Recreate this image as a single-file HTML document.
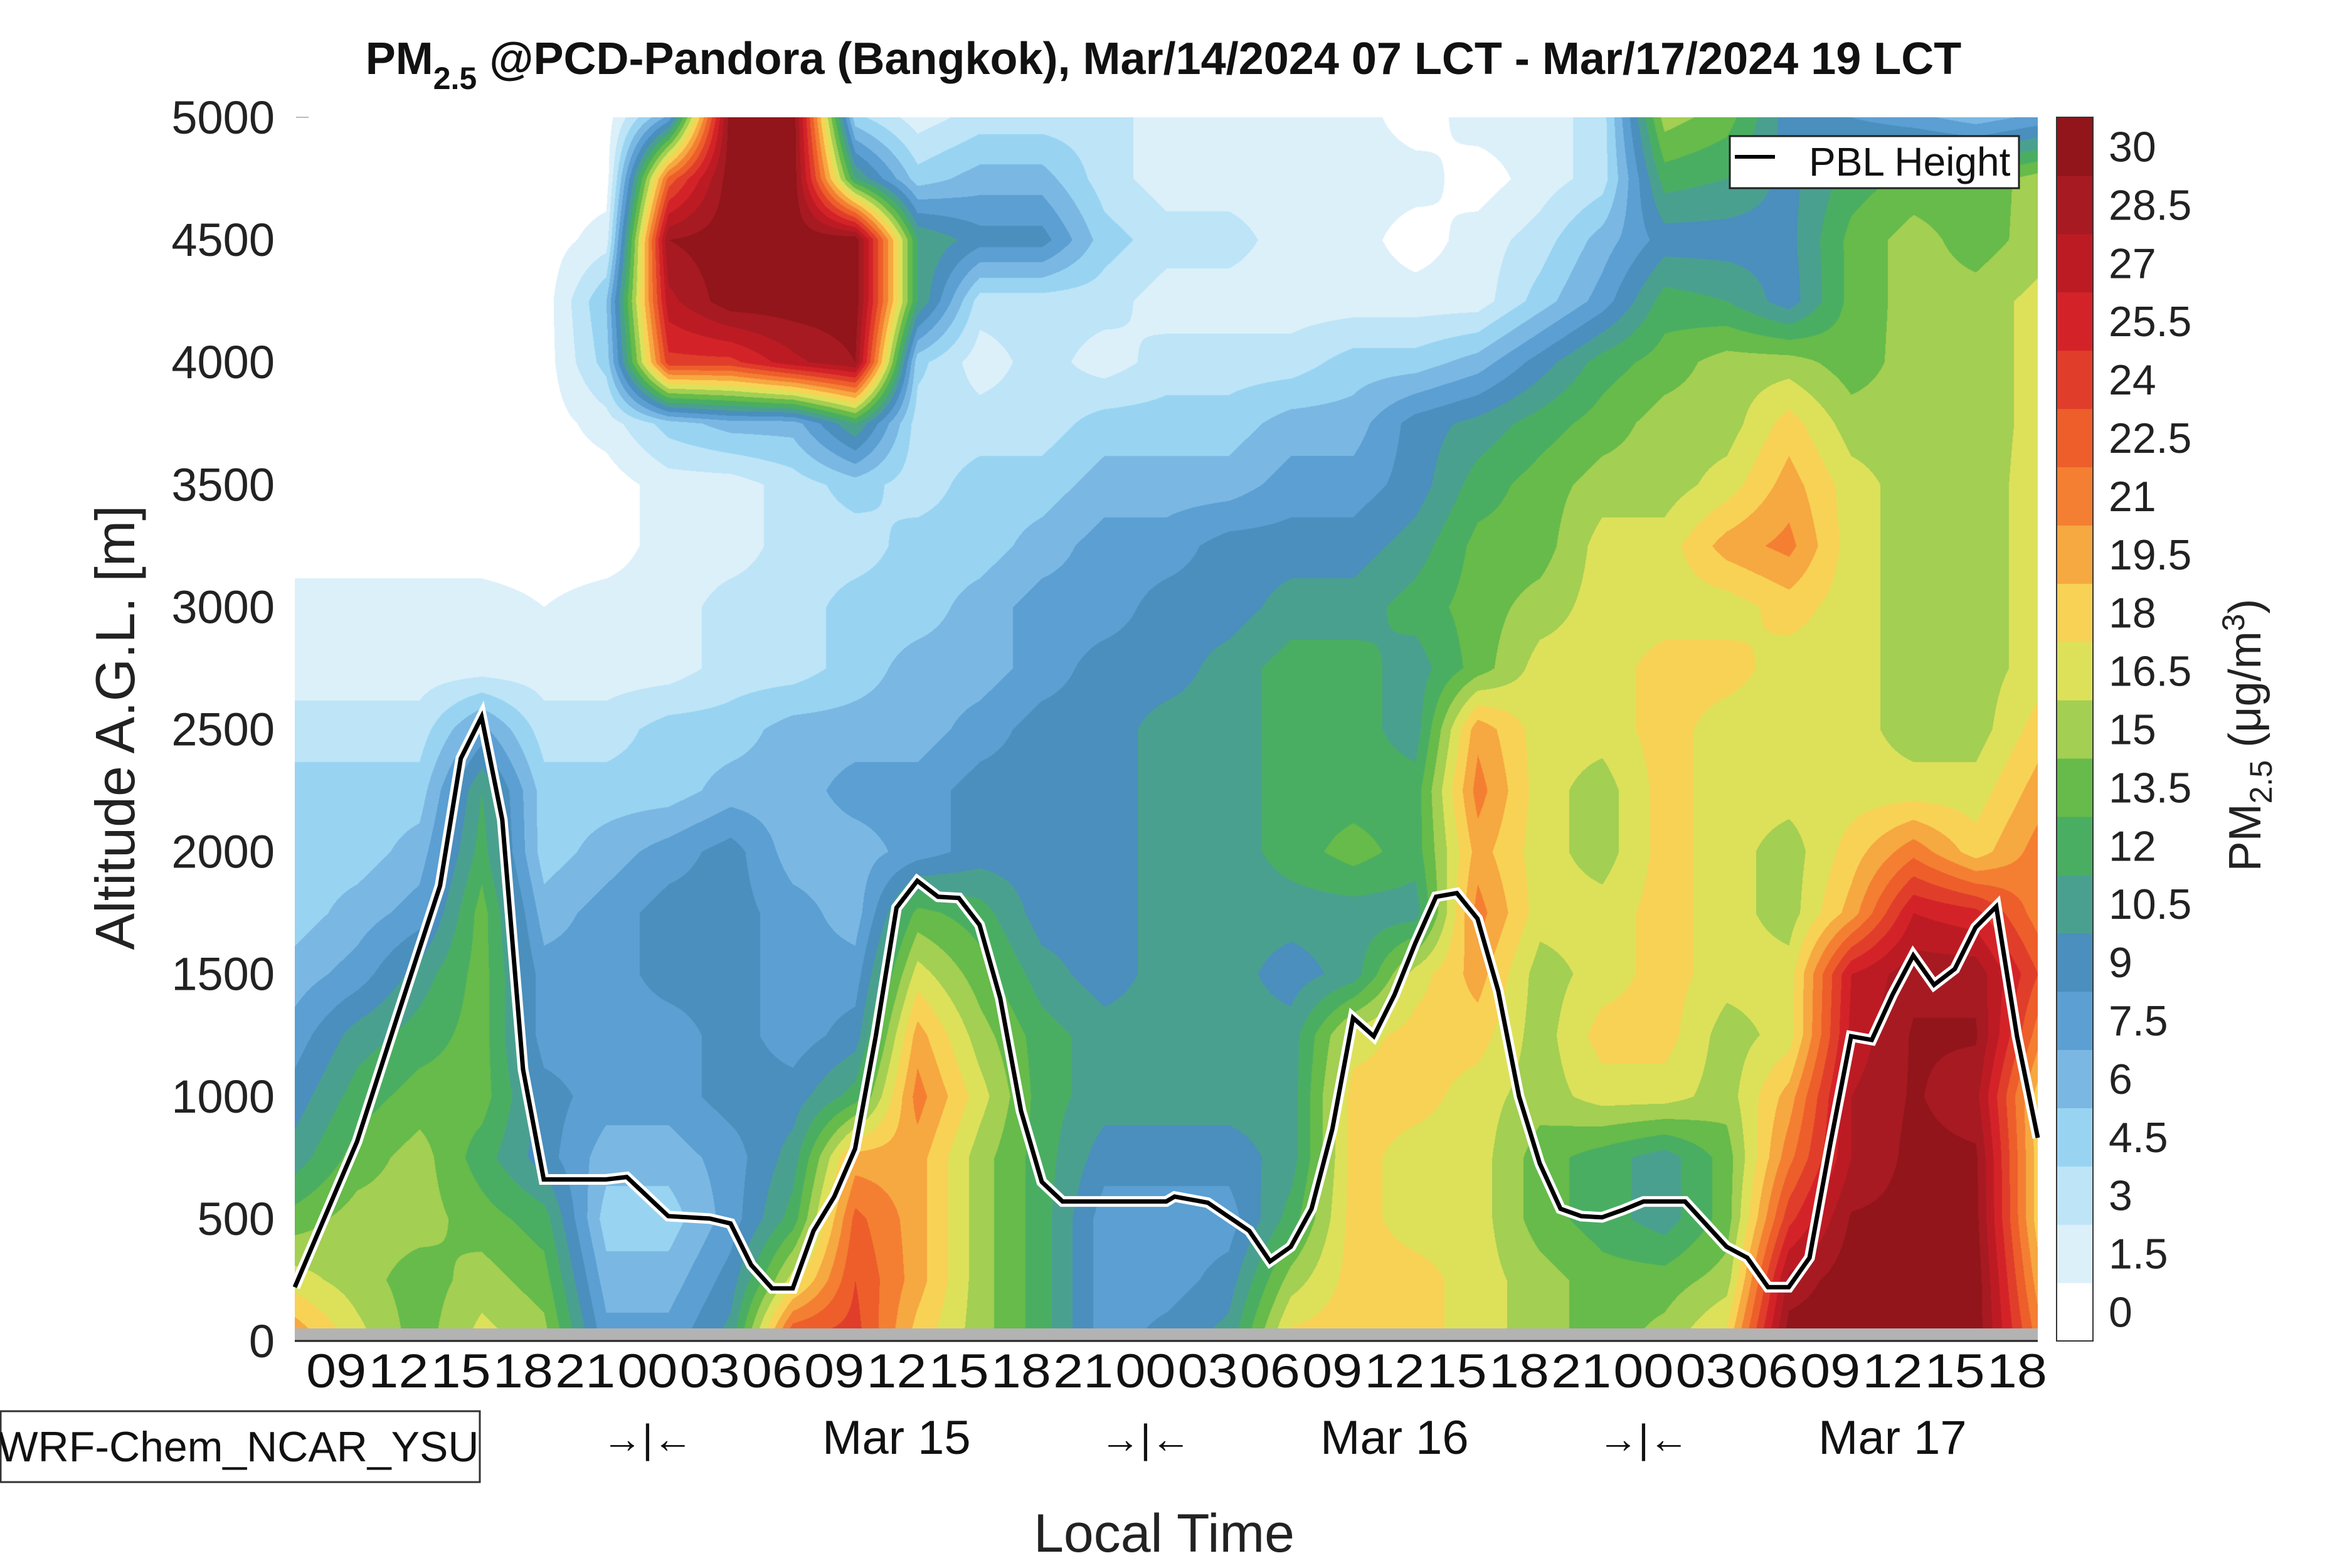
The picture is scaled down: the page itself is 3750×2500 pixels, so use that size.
<!DOCTYPE html>
<html><head><meta charset="utf-8"><style>
html,body{margin:0;padding:0;background:#fff;}
#wrap{position:relative;width:3750px;height:2500px;overflow:hidden;font-family:"Liberation Sans",sans-serif;}
#cv{position:absolute;left:470px;top:187px;}
#svg{position:absolute;left:0;top:0;}
</style></head><body>
<div id="wrap">
<canvas id="cv" width="2779" height="1951"></canvas>
<svg id="svg" width="3750" height="2500"></svg>
</div>
<script>
// ---- data ----
const levels=[0,1.5,3,4.5,6,7.5,9,10.5,12,13.5,15,16.5,18,19.5,21,22.5,24,25.5,27,28.5,30];
const bandColors=["#ffffff","#dcf0fa","#bde4f7","#98d4f2","#7ab8e3","#5b9fd3","#4a8fbd","#4aa08f","#4aae62","#66bb4a","#a3cf52","#dde15a","#f8d254","#f6a841","#f47f32","#ed5e2b","#e03e2a","#d42328","#bd1b24","#a71a22","#91151b"];
const gridHours=[0,3,6,9,12,15,18,21,24,27,30,33,36,39,42,45,48,51,54,57,60,63,66,69,72,75,78,81,84];
const gridAlts=[5000,4750,4500,4250,4000,3750,3500,3250,3000,2750,2500,2250,2000,1750,1500,1250,1000,750,500,250,0];
const pm=[
[0.7,0.7,0.7,0.7,0.7,0.7,8,31,31,5,2.2,3.7,3.7,3.7,2.2,2.2,2.2,2.2,0.7,2.2,2.2,3.7,15.7,14.2,9.7,9,8,6.7,8],
[0.7,0.7,0.7,0.7,0.7,0.7,23,31,31,12,5.2,6.7,6.7,3.7,2.2,2.2,2.2,2.2,2.2,0.7,2.2,3.7,12.7,12,10,12.7,14,14,15.7],
[0.7,0.7,0.7,0.7,0.7,2.2,30,31,31,31,12,9.7,9.7,5.2,3.7,3.7,2.2,2.2,0.7,2.2,3.7,6.7,9.7,9.7,10,14,15.7,14.2,15.7],
[0.7,0.7,0.7,0.7,0.7,6,28,31,31,31,12,3.7,3.7,3.7,2.2,2.2,2.2,2.2,2.2,2.2,5.2,8.2,12.7,12,9.7,14,15.7,15.7,17],
[0.7,0.7,0.7,0.7,0.7,5.2,25,25,28,30,5,2.2,3.7,2.2,3.7,3.7,3.7,5.2,5.2,6.7,9.7,12.7,14.2,15.7,15.7,14.2,15.7,15.7,17],
[0.7,0.7,0.7,0.7,0.7,2.2,5.2,6.7,6.7,12,3.7,3.7,3.7,5.2,5.2,5.2,6.7,6.7,9.7,11,12.7,14.2,15.7,15.7,18.7,15.7,15.7,15.7,17],
[0.7,0.7,0.7,0.7,0.7,0.7,2.2,2.2,3.7,5.2,3.7,5.2,5.2,6.7,6.7,6.7,8.2,8.2,9.7,12.7,14.2,15.7,15.7,17.2,20.2,17.2,15.7,15.7,17.2],
[0.7,0.7,0.7,0.7,0.7,0.7,2.2,2.2,3.7,3.7,5.2,5.2,6.7,8.2,8.2,9.7,9.7,9.7,11.2,14,14.2,17.2,17.2,20.2,21.5,17.2,15.7,15.7,17.2],
[2.2,2.2,2.2,2.2,1.5,2.2,2.2,3.7,3.7,5.2,5.2,6.7,8.2,8.2,9.7,9.7,11.2,11.2,12.7,14.2,15.7,17.2,17.2,17.2,18.7,17.2,15.7,15.7,17.2],
[2.2,2.2,2.2,2.2,2.2,2.2,2.2,3.7,3.7,5.2,6.7,6.7,8.2,9.7,9.7,11.2,12.7,12.7,11.2,14.2,17.2,17.2,18.7,18.7,17.2,17.2,15.7,15.7,17.2],
[3.7,3.7,3.7,8,3.7,3.7,5.2,5.2,6.7,6.7,6.7,8.2,9.7,9.7,11.2,11.2,12.7,12.7,11.2,20.5,17.2,17.2,18.7,17.2,17.2,17.2,15.7,15.7,18.7],
[5.2,5.2,5.2,12,5.2,5.2,5.2,6.7,6.7,8.2,8.2,9.7,9.7,9.7,11.2,11.2,12.7,12.7,12.7,21.7,17.2,15.7,18.7,17.2,17.2,17.2,17.2,17.2,20.2],
[5.2,5.2,6.7,12.7,5.2,6.7,8.2,9.7,6.7,6.7,8.2,9.7,9.7,9.7,11.2,11.2,12.7,14.2,12.7,20.2,17.2,15.7,18.7,17.2,15.7,18.7,22,18.7,21.7],
[5.2,6.7,8.2,14.2,6.7,8.2,9.7,9.7,8.2,6.7,14,12.7,9.7,9.7,11.2,11.2,11.2,11.2,11.2,21.7,17.2,17.2,18.7,17.2,15.7,20.2,27,26,21.7],
[6.7,8.2,11.2,14.2,8.2,8.2,9.7,9.7,8.2,8.2,17.2,14.2,11.2,9.7,11.2,11.2,9.7,11.2,17.2,20.2,15.7,17.2,18.7,17.2,17.2,27,29.5,29.5,24],
[8.2,11.2,12.7,14.2,8.2,8.2,8.2,9.7,8.2,9.7,20.2,15.7,12.7,11.2,11.2,11.2,11.2,17.2,18.7,18.7,15.7,18.7,18.7,15.7,17.2,27.5,30.2,30.2,21.7],
[9.7,12.7,14.2,14.2,9.7,8.2,8.2,9.7,9.7,12.7,21.7,17.2,12.7,11.2,11.2,11.2,11.2,18.7,18.7,17.2,15.7,17.2,17.2,15.7,20.2,28.5,30.2,29,18.7],
[11.2,14.2,15.7,12.7,9.7,6.7,6.7,8.2,11.2,20.2,20.2,15.7,12.7,9.7,9.7,9.7,11.2,18.7,17.2,17.2,14.2,12.7,11.2,14.2,22,28.5,30.5,30.3,18.7],
[14.2,15.7,15.7,14.2,12.7,5.2,5.2,8.2,12.7,23,20.2,15.7,12.7,8.2,8.2,8.2,12.7,18.7,17.2,17.2,14.2,12.7,11.2,14.2,25,30.2,30.5,30.5,18.7],
[17.2,15.7,14.2,15.7,14.2,6.7,6.7,9.7,17.2,24,20.2,15.7,12.7,8.2,8.2,9.7,15.7,18.7,18.7,17.2,15.7,14.2,14.2,15.7,29,31,31,31,20.2],
[21,17.2,14.2,17.2,15.7,8.2,8.2,11.2,24.7,24.7,18.7,15.7,12.7,8.2,9.7,11.2,18.7,19,18.7,17.2,15.7,14.2,15.7,18.7,31,31,31,31,22]
];
const pblHours=[0,3,5,7,8,9,10,11,12,15,16,18,20,21,22,23,24,25,26,27,28,29,30,31,32,33,34,35,36,37,42,42.4,44,46,47,48,49,50,51,52,53,54,55,56,57,58,59,60,61,62,63,64,65,67,69,70,71,72,73,74,75,76,77,78,79,80,81,82,83,84];
const pblAlt=[220,815,1340,1860,2380,2550,2130,1110,660,660,670,510,500,480,310,215,215,450,590,785,1245,1770,1880,1815,1810,1700,1400,940,650,570,570,590,565,450,325,385,540,865,1320,1245,1415,1625,1815,1830,1725,1430,1000,725,540,510,505,535,570,570,385,340,220,220,340,805,1245,1230,1415,1575,1455,1520,1690,1775,1245,830];
const yTicks=[0,500,1000,1500,2000,2500,3000,3500,4000,4500,5000];
const xTickHours=[2,5,8,11,14,17,20,23,26,29,32,35,38,41,44,47,50,53,56,59,62,65,68,71,74,77,80,83];
const xTickLabels=["09","12","15","18","21","00","03","06","09","12","15","18","21","00","03","06","09","12","15","18","21","00","03","06","09","12","15","18"];
const dayLabels=["Mar 15","Mar 16","Mar 17"];
const dayNoonHours=[29,53,77];
const midnightHours=[17,41,65];
const cbLabels=["0","1.5","3","4.5","6","7.5","9","10.5","12","13.5","15","16.5","18","19.5","21","22.5","24","25.5","27","28.5","30"];

// ---- axes ----
const X0=470,X1=3249,Y0=2138,Y1=187,HMAX=84,AMAX=5000;
const xs=h=>X0+(X1-X0)*h/HMAX;
const ys=a=>Y0-(Y0-Y1)*a/AMAX;

// ---- contour field on canvas ----
(function(){
  const cv=document.getElementById('cv');const ctx=cv.getContext('2d');
  const W=cv.width,H=cv.height;const img=ctx.createImageData(W,H);
  const rgb=bandColors.map(c=>[parseInt(c.substr(1,2),16),parseInt(c.substr(3,2),16),parseInt(c.substr(5,2),16)]);
  const nc=gridHours.length,nr=gridAlts.length;
  for(let py=0;py<H;py++){
    const alt=(Y0-(py+Y1))/(Y0-Y1)*AMAX;
    let r=(AMAX-alt)/(AMAX/(nr-1)); if(r<0)r=0; if(r>nr-1)r=nr-1;
    const r0=Math.min(Math.floor(r),nr-2),fr=r-r0;
    for(let px=0;px<W;px++){
      const h=px/(X1-X0)*HMAX;
      let c=h/(HMAX/(nc-1)); if(c>nc-1)c=nc-1;
      const c0=Math.min(Math.floor(c),nc-2),fc=c-c0;
      const v=(pm[r0][c0]*(1-fc)+pm[r0][c0+1]*fc)*(1-fr)+(pm[r0+1][c0]*(1-fc)+pm[r0+1][c0+1]*fc)*fr;
      let b=Math.floor(v/1.5); if(b<0)b=0; if(b>20)b=20;
      const k=(py*W+px)*4; const col=rgb[b];
      img.data[k]=col[0];img.data[k+1]=col[1];img.data[k+2]=col[2];img.data[k+3]=255;
    }
  }
  ctx.putImageData(img,0,0);
})();

// ---- svg overlay ----
const NS='http://www.w3.org/2000/svg';
const svg=document.getElementById('svg');
function mk(tag,attrs,parent){const e=document.createElementNS(NS,tag);for(const k in attrs)e.setAttribute(k,attrs[k]);(parent||svg).appendChild(e);return e;}

let g=mk('rect',{x:X0,y:Y0-20,width:X1-X0,height:20,fill:'#b3b3b3'});


let ax=mk('line',{x1:X0,y1:Y0,x2:X1,y2:Y0,stroke:'#222','stroke-width':3});



// PBL line
let pts=pblHours.map((h,i)=>xs(h).toFixed(1)+','+ys(pblAlt[i]).toFixed(1)).join(' ');
let pw=mk('polyline',{points:pts,fill:'none',stroke:'#fff','stroke-width':17,'stroke-linejoin':'miter'});


let pb=mk('polyline',{points:pts,fill:'none',stroke:'#000','stroke-width':7,'stroke-linejoin':'miter'});



// y ticks
yTicks.forEach(v=>{
  const t=mk('text',{x:438,y:ys(v)+26,'text-anchor':'end','font-size':74,fill:'#222'});
  t.textContent=v;
  
  
});
let tk=mk('line',{x1:X0+2,y1:Y1,x2:X0+22,y2:Y1,stroke:'#bbb','stroke-width':2});


// x ticks
xTickHours.forEach((h,i)=>{
  const t=mk('text',{x:xs(h),y:2212,'text-anchor':'middle','font-size':76,fill:'#111','textLength':96,'lengthAdjust':'spacingAndGlyphs'});
  t.textContent=xTickLabels[i];
  
  
});
dayLabels.forEach((d,i)=>{
  const t=mk('text',{x:xs(dayNoonHours[i]),y:2318,'text-anchor':'middle','font-size':76,fill:'#111'});
  t.textContent=d;
  
  
});
midnightHours.forEach(h=>{
  const t=mk('text',{x:xs(h),y:2316,'text-anchor':'middle','font-size':64,fill:'#111'});
  t.textContent='\u2192|\u2190';
  
  
});
let xl=mk('text',{x:1856,y:2474,'text-anchor':'middle','font-size':86,fill:'#222'});
xl.textContent='Local Time';


let yl=mk('text',{x:0,y:0,'text-anchor':'middle','font-size':88,fill:'#222',transform:'translate(214,1160) rotate(-90)'});
yl.textContent='Altitude A.G.L. [m]';



// model box
let mb=mk('rect',{x:1,y:2250,width:764,height:113,fill:'#fff',stroke:'#333','stroke-width':3});


let mt=mk('text',{x:380,y:2330,'text-anchor':'middle','font-size':68,fill:'#111'});
mt.textContent='WRF-Chem_NCAR_YSU';



// title
let ti=mk('text',{x:1855,y:118,'text-anchor':'middle','font-size':72,'font-weight':'bold',fill:'#111'});


ti.innerHTML='PM<tspan dy="24" font-size="50">2.5</tspan><tspan dy="-24"> @PCD-Pandora (Bangkok), Mar/14/2024 07 LCT - Mar/17/2024 19 LCT</tspan>';

// legend
let lg=mk('rect',{x:2758,y:217,width:461,height:83,fill:'#fff',stroke:'#222','stroke-width':3});


let ll=mk('line',{x1:2766,y1:250,x2:2830,y2:250,stroke:'#000','stroke-width':6});


let lt=mk('text',{x:2884,y:280,'font-size':64,fill:'#111'});
lt.textContent='PBL Height';



// colorbar
const CBX=3279,CBW=58,CBT=187,CBB=2138,bh=(CBB-CBT)/bandColors.length;
bandColors.forEach((c,i)=>{
  const r=mk('rect',{x:CBX,y:CBB-(i+1)*bh,width:CBW,height:bh+0.6,fill:c});
  
  
  const t=mk('text',{x:3362,y:CBB-(i+0.5)*bh+24,'font-size':68,fill:'#222'});
  t.textContent=cbLabels[i];
  
  
});
let cbo=mk('rect',{x:CBX,y:CBT,width:CBW,height:CBB-CBT,fill:'none',stroke:'#333','stroke-width':2});


let ct=mk('text',{x:0,y:0,'text-anchor':'middle','font-size':72,fill:'#222',transform:'translate(3604,1172) rotate(-90)'});


ct.innerHTML='PM<tspan dy="18" font-size="50">2.5</tspan><tspan dy="-18"> (\u03BCg/m</tspan><tspan dy="-26" font-size="50">3</tspan><tspan dy="26">)</tspan>';
</script>
</body></html>
